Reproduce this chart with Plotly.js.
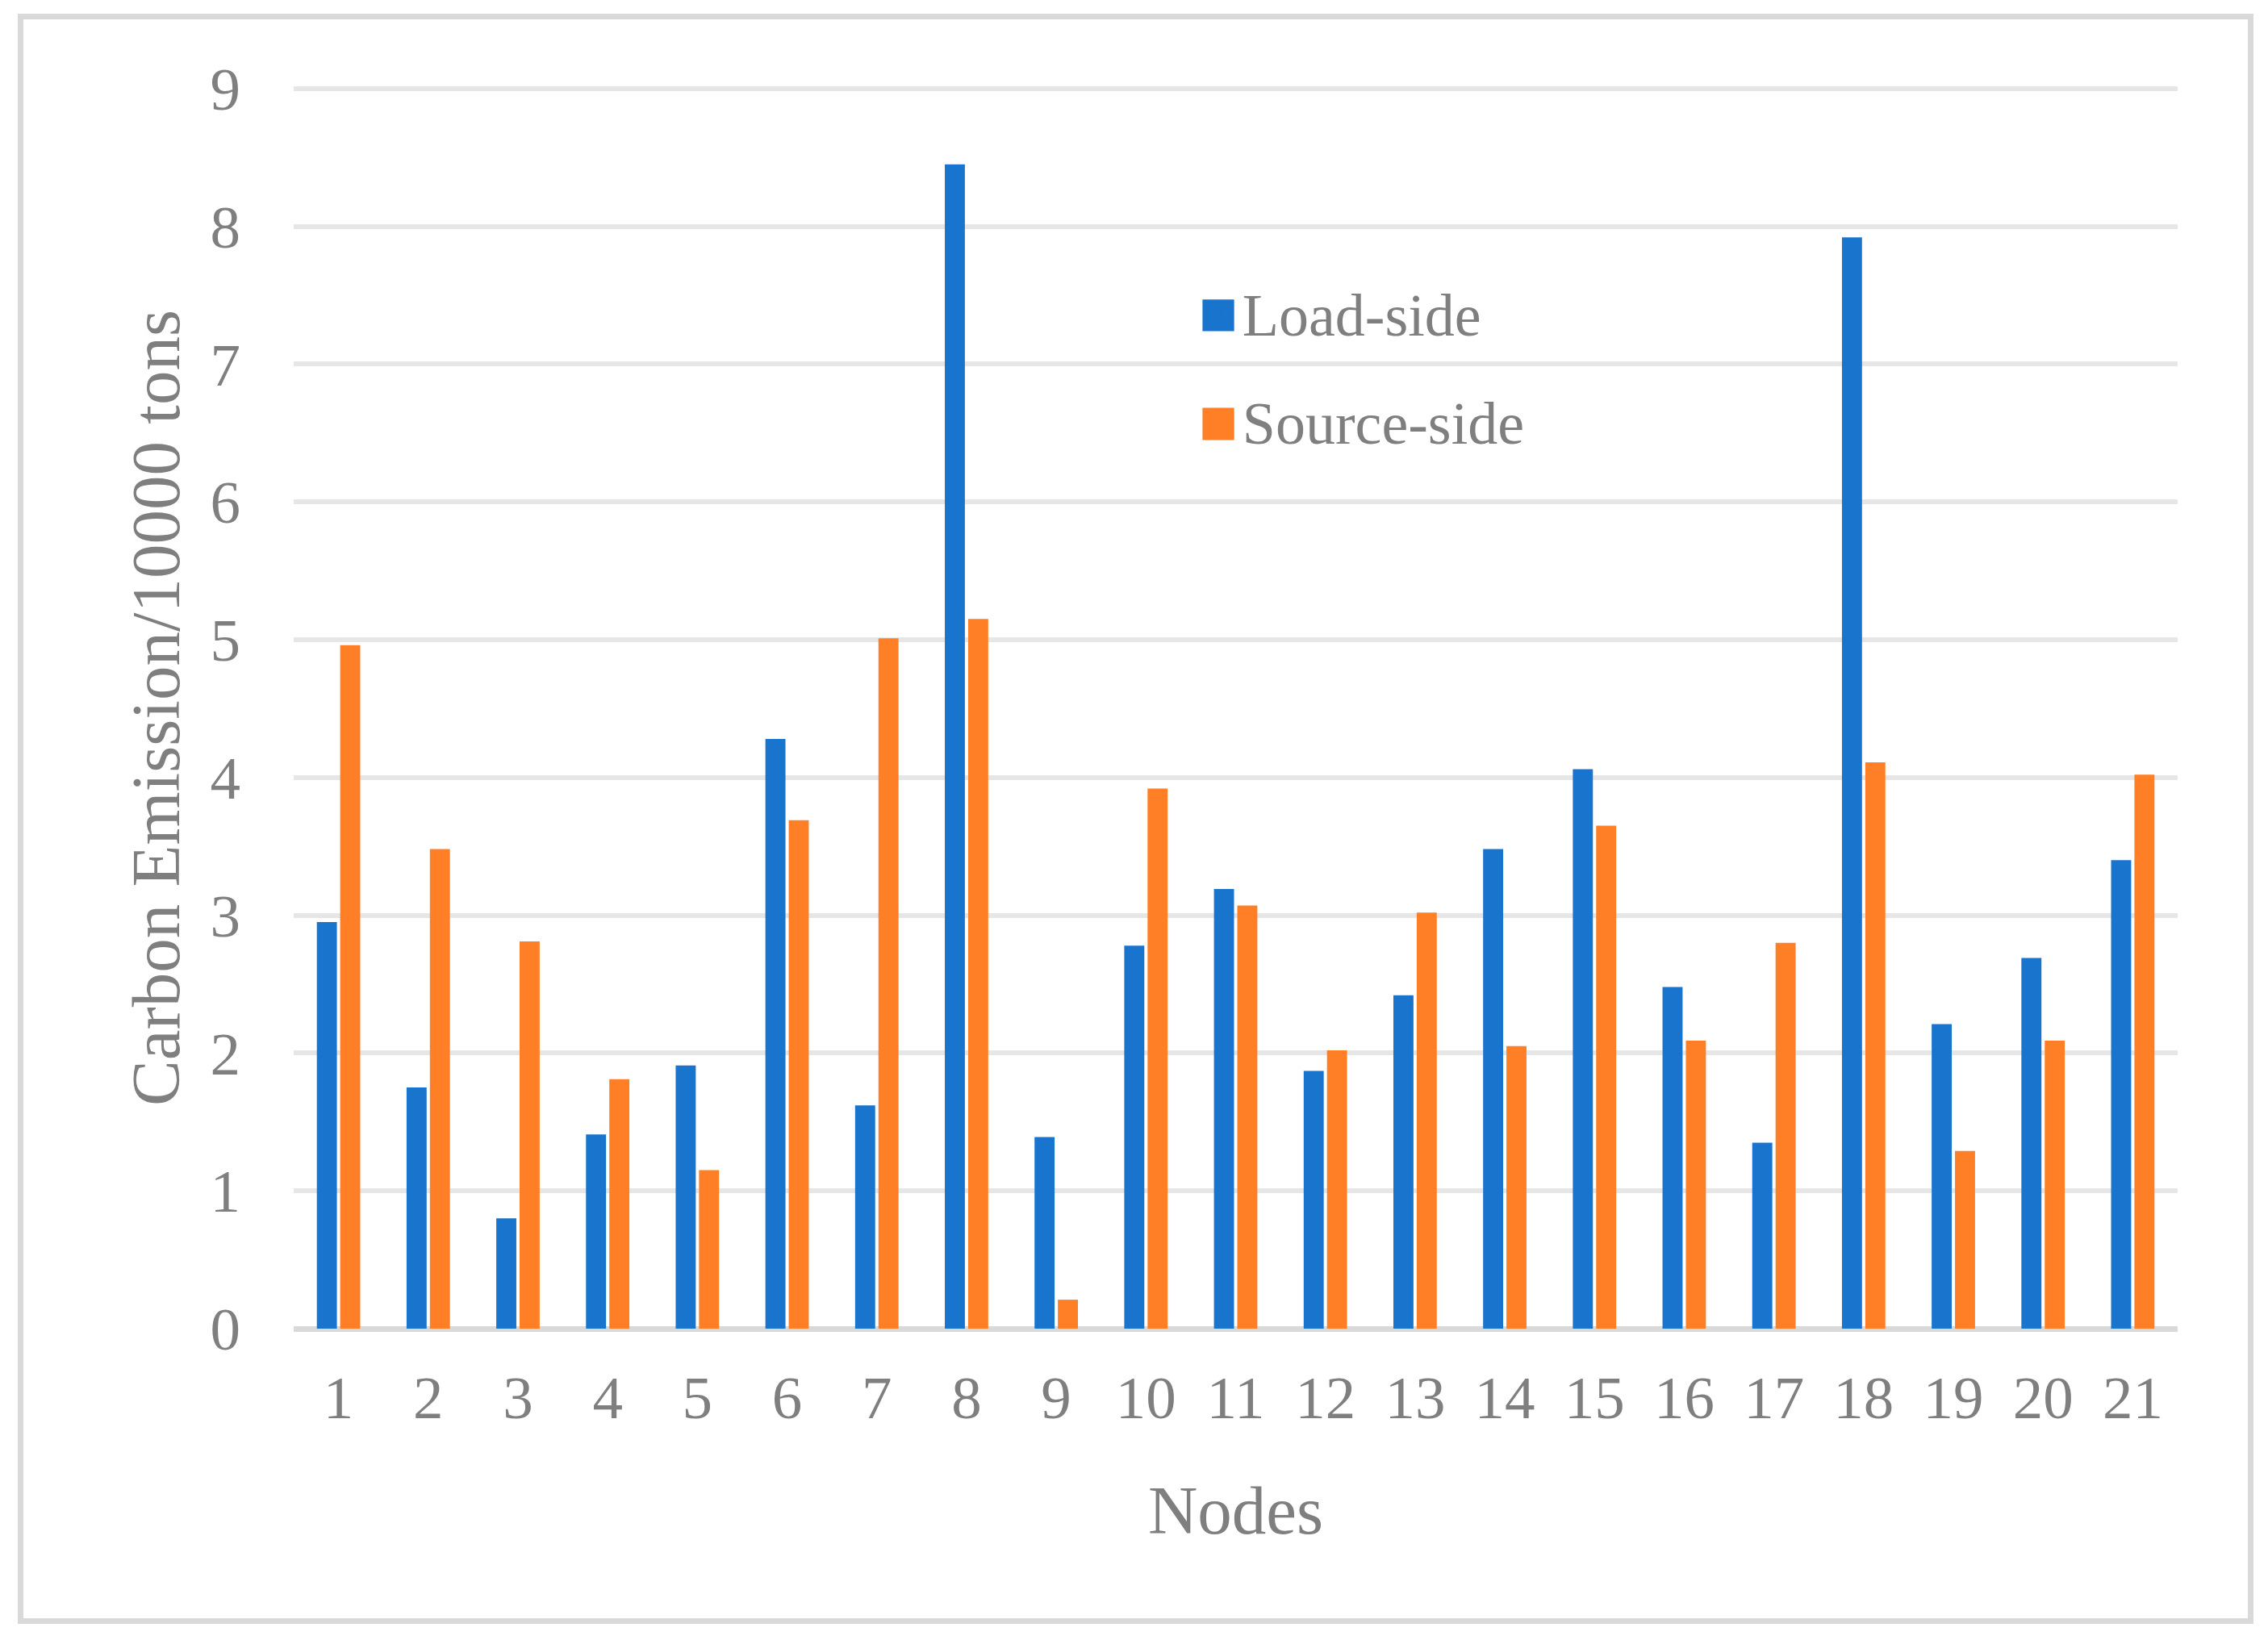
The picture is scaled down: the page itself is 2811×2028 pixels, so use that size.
<!DOCTYPE html>
<html>
<head>
<meta charset="utf-8">
<script src="https://cdn.plot.ly/plotly-3.0.1.min.js"></script>
<style>
  html, body { margin: 0; padding: 0; background: #ffffff; }
  #chart { width: 2811px; height: 2028px; }
  #frame { position: absolute; left: 22px; top: 17px; width: 2757px; height: 1982px;
           border: 7px solid #d9d9d9; pointer-events: none; }
</style>
</head>
<body>
<div id="chart"></div>
<div id="frame"></div>
<script>
const nodes = ['1','2','3','4','5','6','7','8','9','10','11','12','13','14','15','16','17','18','19','20','21'];
const loadSide = [2.95, 1.75, 0.80, 1.41, 1.91, 4.28, 1.62, 8.45, 1.39, 2.78, 3.19, 1.87, 2.42, 3.48, 4.06, 2.48, 1.35, 7.92, 2.21, 2.69, 3.40];
const sourceSide = [4.96, 3.48, 2.81, 1.81, 1.15, 3.69, 5.01, 5.15, 0.21, 3.92, 3.07, 2.02, 3.02, 2.05, 3.65, 2.09, 2.80, 4.11, 1.29, 2.09, 4.02];
const yTicks = [0, 1, 2, 3, 4, 5, 6, 7, 8, 9];

const blue = '#1874CD';
const orange = '#FF7F27';
const textColor = '#7f7f7f';
const serif = 'Liberation Serif, Times New Roman, serif';

const traces = [
  { type: 'bar', name: 'Load-side', x: nodes, y: loadSide,
    marker: { color: blue }, legendgroup: 'a' },
  { type: 'bar', name: 'Source-side', x: nodes, y: sourceSide,
    marker: { color: orange }, legendgroup: 'b' }
];

// enlarged legend keys (same colours, drawn behind the legend symbols)
const keyShapes = [
  { type: 'rect', xref: 'paper', yref: 'paper', x0: 0.4824, x1: 0.4992, y0: 0.8035, y1: 0.8289,
    fillcolor: blue, line: { width: 0 }, layer: 'above' },
  { type: 'rect', xref: 'paper', yref: 'paper', x0: 0.4824, x1: 0.4992, y0: 0.7157, y1: 0.7417,
    fillcolor: orange, line: { width: 0 }, layer: 'above' }
];

const layout = {
  width: 2811, height: 2028,
  paper_bgcolor: '#ffffff', plot_bgcolor: '#ffffff',
  margin: { l: 364, r: 112, t: 108, b: 381, pad: 0 },
  barmode: 'group', bargap: 0.48, bargroupgap: 0.14,
  font: { family: serif, color: textColor, size: 75 },
  showlegend: true,
  legend: {
    x: 0.4864, y: 0.854, xanchor: 'left', yanchor: 'top',
    font: { family: serif, size: 74, color: textColor },
    bgcolor: 'rgba(0,0,0,0)', tracegroupgap: 35, traceorder: 'grouped'
  },
  shapes: keyShapes,
  xaxis: {
    type: 'category', tickvals: nodes, ticktext: nodes,
    showgrid: false, showline: false, zeroline: false,
    ticks: 'outside', ticklen: 20, tickcolor: 'rgba(0,0,0,0)',
    tickfont: { family: serif, size: 75, color: textColor },
    title: { text: 'Nodes', font: { family: serif, size: 85, color: textColor }, standoff: 68 },
    automargin: false
  },
  yaxis: {
    range: [0, 9.01], tickvals: yTicks, ticktext: yTicks.map(String),
    showgrid: true, gridcolor: '#e6e6e6', gridwidth: 6,
    zeroline: true, zerolinecolor: '#d9d9d9', zerolinewidth: 7,
    showline: false,
    ticks: 'outside', ticklen: 50, tickcolor: 'rgba(0,0,0,0)',
    tickfont: { family: serif, size: 75, color: textColor },
    title: { text: 'Carbon Emission/10000 tons', font: { family: serif, size: 85, color: textColor }, standoff: 9 },
    automargin: false
  }
};

Plotly.newPlot('chart', traces, layout, { staticPlot: true, displayModeBar: false });
</script>
</body>
</html>
